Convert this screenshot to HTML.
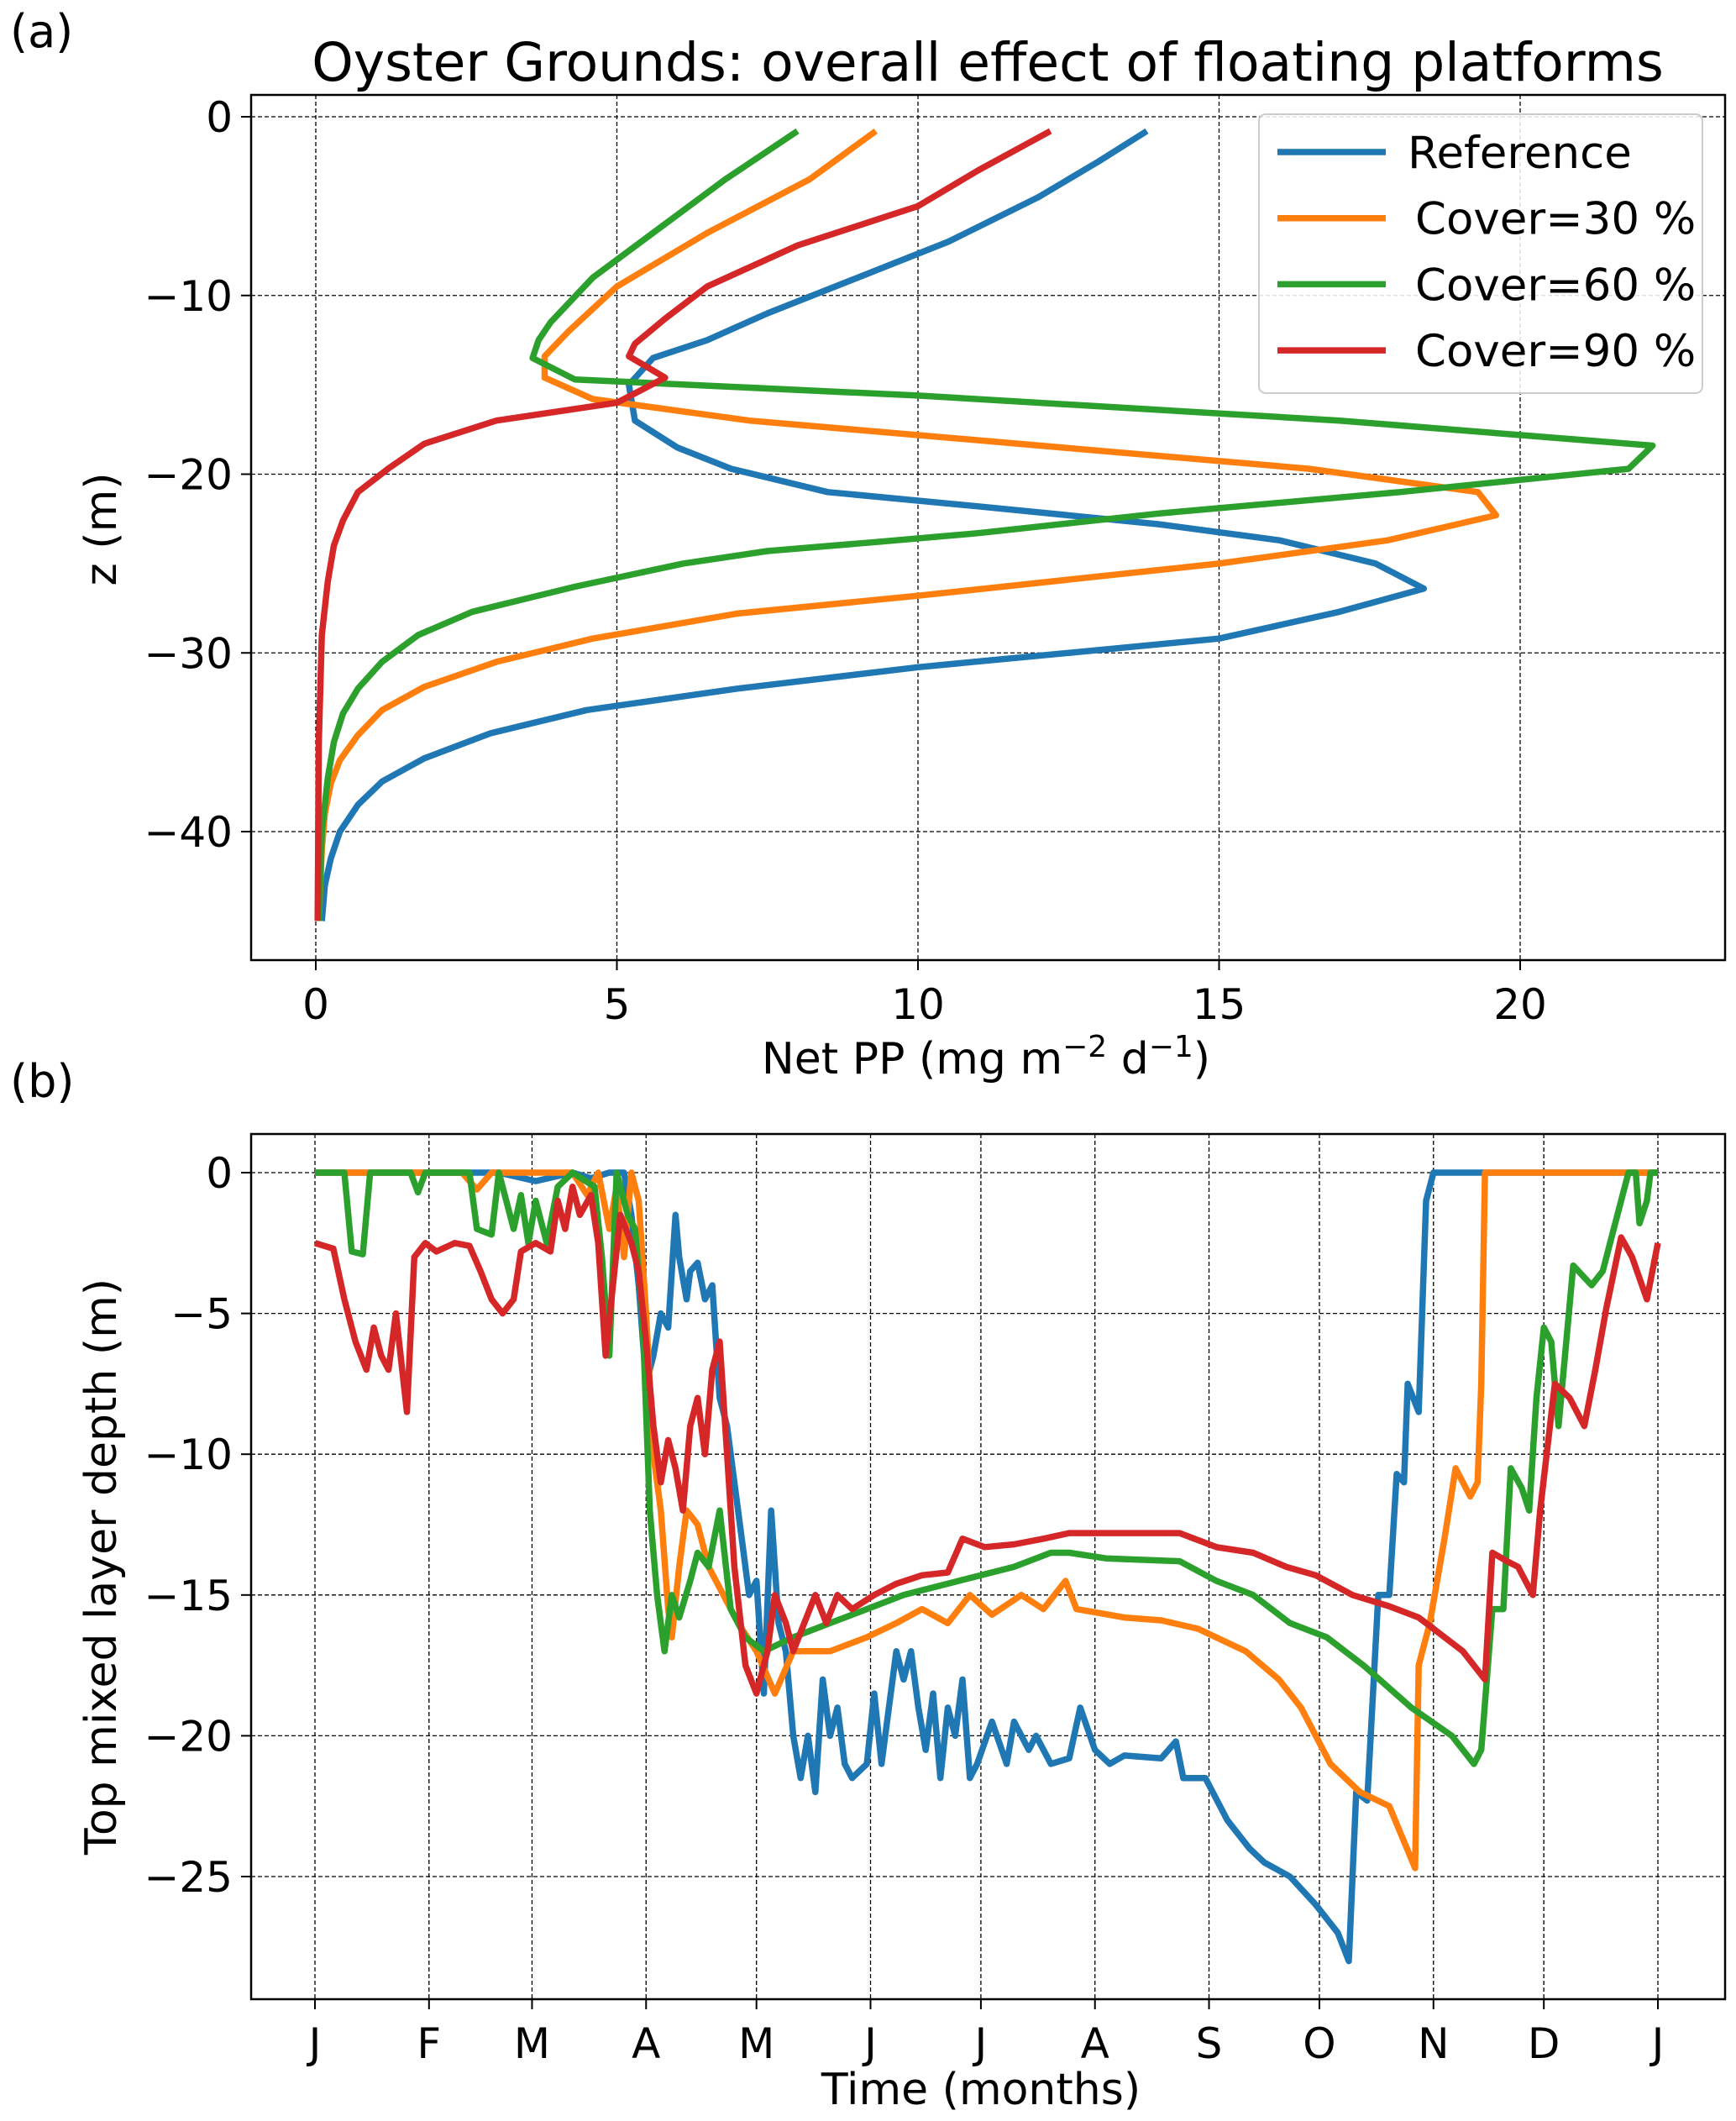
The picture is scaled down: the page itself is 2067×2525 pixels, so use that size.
<!DOCTYPE html>
<html><head><meta charset="utf-8"><style>
html,body{margin:0;padding:0;background:#fff}
svg{display:block;font-family:"DejaVu Sans","Liberation Sans",sans-serif}
</style></head><body>
<svg id="fig" width="2067" height="2525" viewBox="0 0 2067 2525" xmlns="http://www.w3.org/2000/svg">
<rect width="2067" height="2525" fill="#fff"/>
<text x="12" y="56" font-size="54">(a)</text>
<text x="12" y="1306" font-size="54">(b)</text>
<text x="1176" y="96" font-size="63" text-anchor="middle">Oyster Grounds: overall effect of floating platforms</text>
<g id="pa"></g>
<g id="pb"></g>
<text x="1174" y="1278" font-size="52" text-anchor="middle">Net PP (mg m<tspan dy="-20" font-size="36">−2</tspan><tspan dy="20"> d</tspan><tspan dy="-20" font-size="36">−1</tspan><tspan dy="20">)</tspan></text>
<text transform="translate(138,630) rotate(-90)" font-size="52" text-anchor="middle">z (m)</text>
<text transform="translate(138,1865) rotate(-90)" font-size="52" text-anchor="middle">Top mixed layer depth (m)</text>
<text x="1168" y="2505" font-size="52" text-anchor="middle">Time (months)</text>
</svg>
<script>
const NS="http://www.w3.org/2000/svg";
const colors=["#1f77b4","#ff7f0e","#2ca02c","#d62728"];
const seriesNames=["Reference","Cover=30 %","Cover=60 %","Cover=90 %"];
// Panel a profiles: [netPP, z]
const profRef=[[13.8,-0.8],[13,-2.5],[12,-4.5],[10.5,-7],[9,-9],[7.5,-11],[6.5,-12.5],[5.6,-13.5],[5.2,-15],[5.3,-17],[6,-18.5],[6.9,-19.7],[8.5,-21],[11,-21.8],[14,-22.8],[16,-23.7],[17.6,-25],[18.4,-26.4],[17,-27.7],[15,-29.2],[10,-30.8],[7,-32],[4.5,-33.2],[2.9,-34.5],[1.8,-35.9],[1.1,-37.2],[0.7,-38.5],[0.4,-40],[0.25,-41.5],[0.15,-43],[0.1,-45]];
const prof30=[[9.3,-0.8],[8.2,-3.5],[6.5,-6.5],[5,-9.5],[4.2,-12],[3.8,-13.4],[3.8,-14.6],[4.6,-15.8],[7.2,-17],[16.5,-19.7],[19.3,-21],[19.6,-22.3],[17.8,-23.7],[15,-25],[10,-26.8],[7,-27.8],[4.6,-29.2],[3,-30.5],[1.8,-31.9],[1.1,-33.2],[0.7,-34.6],[0.4,-36],[0.25,-37.3],[0.15,-39],[0.1,-41],[0.05,-45]];
const prof60=[[8,-0.8],[6.8,-3.5],[5.6,-6.5],[4.6,-9],[3.9,-11.5],[3.7,-12.5],[3.6,-13.5],[4.3,-14.7],[10,-15.6],[17,-17],[22.2,-18.4],[21.8,-19.7],[18,-21],[14,-22.2],[11,-23.3],[9.3,-23.8],[7.5,-24.3],[6.1,-25],[4.3,-26.3],[2.6,-27.7],[1.7,-29],[1.1,-30.5],[0.7,-32],[0.45,-33.4],[0.3,-35],[0.2,-37],[0.1,-40],[0.05,-45]];
const prof90=[[12.2,-0.8],[11,-3],[10,-5],[8,-7.2],[6.5,-9.5],[5.8,-11.3],[5.3,-12.7],[5.2,-13.4],[5.8,-14.6],[5,-16],[3,-17],[1.8,-18.3],[1.2,-19.7],[0.7,-21],[0.45,-22.6],[0.3,-24],[0.2,-26],[0.1,-29],[0.05,-35],[0.03,-45]];
const xTicksA=[0,5,10,15,20];
const yTicksA=[0,-10,-20,-30,-40];
// Panel b series: [day, depth]
const mldRef=[[0,0],[50,0],[60,-0.3],[70,0],[75,-0.2],[80,0],[84,0],[86,-1.5],[88,-4],[90,-7.5],[92,-6.5],[94,-5],[96,-5.5],[98,-1.5],[99,-3],[101,-4.5],[102,-3.5],[104,-3.2],[106,-4.5],[108,-4],[110,-8],[112,-9],[114,-11],[116,-13],[118,-15],[120,-14.5],[122,-18.5],[124,-12],[126,-16],[128,-17],[130,-20],[132,-21.5],[134,-20],[136,-22],[138,-18],[140,-20],[142,-19],[144,-21],[146,-21.5],[150,-21],[152,-18.5],[154,-21],[156,-19],[158,-17],[160,-18],[162,-17],[164,-19],[166,-20.5],[168,-18.5],[170,-21.5],[172,-19],[174,-20],[176,-18],[178,-21.5],[180,-21],[184,-19.5],[188,-21],[190,-19.5],[194,-20.5],[196,-20],[200,-21],[205,-20.8],[208,-19],[212,-20.5],[216,-21],[220,-20.7],[230,-20.8],[234,-20.2],[236,-21.5],[242,-21.5],[248,-23],[254,-24],[258,-24.5],[265,-25],[272,-26],[278,-27],[281,-28],[283,-22],[286,-22.3],[289,-15],[292,-15],[294,-10.7],[296,-11],[297,-7.5],[300,-8.5],[302,-1],[304,0],[365,0]];
const mld30=[[0,0],[40,0],[44,-0.6],[48,0],[70,0],[74,-0.8],[77,0],[80,-2],[82,-0.5],[84,-3],[86,0],[88,-1],[90,-5],[92,-10],[94,-12],[96,-15.5],[97,-16.5],[99,-14],[101,-12],[104,-12.5],[107,-14],[111,-15],[115,-16],[120,-17],[125,-18.5],[130,-17],[140,-17],[150,-16.5],[158,-16],[165,-15.5],[172,-16],[178,-15],[184,-15.7],[192,-15],[198,-15.5],[204,-14.5],[207,-15.5],[220,-15.8],[230,-15.9],[240,-16.2],[253,-17],[262,-18],[268,-19],[276,-21],[284,-22],[292,-22.5],[299,-24.7],[300,-17.5],[303,-16],[307,-13],[310,-10.5],[314,-11.5],[316,-11],[317,-7.5],[318,0],[365,0]];
const mld60=[[0,0],[8,0],[10,-2.8],[13,-2.9],[15,0],[26,0],[28,-0.7],[30,0],[42,0],[44,-2],[48,-2.2],[50,0],[54,-2],[56,-0.8],[58,-2.5],[60,-1],[63,-2.5],[66,-0.5],[70,0],[76,-0.5],[78,-3],[80,-6.5],[82,0],[85,-1.5],[87,-2],[89,-5],[91,-12],[93,-15],[95,-17],[97,-15],[99,-15.8],[102,-14.5],[104,-13.5],[107,-14],[110,-12],[113,-15.5],[117,-16.5],[122,-17],[130,-16.5],[140,-16],[150,-15.5],[160,-15],[175,-14.5],[190,-14],[200,-13.5],[205,-13.5],[215,-13.7],[235,-13.8],[245,-14.5],[255,-15],[265,-16],[275,-16.5],[285,-17.5],[298,-19],[309,-20],[315,-21],[317,-20.5],[320,-15.5],[323,-15.5],[325,-10.5],[328,-11.2],[330,-12],[332,-8],[334,-5.5],[336,-6],[338,-9],[342,-3.3],[347,-4],[350,-3.5],[355,-1],[357,0],[359,0],[360,-1.8],[362,-1],[363,0],[365,0]];
const mld90=[[0,-2.5],[5,-2.7],[8,-4.5],[11,-6],[14,-7],[16,-5.5],[18,-6.5],[20,-7],[22,-5],[25,-8.5],[27,-3],[30,-2.5],[33,-2.8],[38,-2.5],[42,-2.6],[45,-3.5],[48,-4.5],[51,-5],[54,-4.5],[56,-2.8],[60,-2.5],[64,-2.8],[66,-1],[68,-2],[70,-0.5],[72,-1.5],[75,-0.8],[77,-2.5],[79,-6.5],[81,-4],[83,-1.5],[86,-2.5],[88,-3.5],[90,-6],[92,-9],[94,-11],[96,-9.5],[98,-10.5],[100,-12],[102,-9],[104,-8],[106,-10],[108,-7],[110,-6],[112,-10],[114,-14],[117,-17.5],[120,-18.5],[123,-17],[125,-15],[128,-16],[130,-17],[133,-16],[136,-15],[139,-16],[142,-15],[146,-15.5],[152,-15],[158,-14.6],[165,-14.3],[172,-14.2],[176,-13],[182,-13.3],[190,-13.2],[198,-13],[205,-12.8],[235,-12.8],[245,-13.3],[255,-13.5],[264,-14],[272,-14.3],[282,-15],[292,-15.4],[300,-15.8],[305,-16.3],[312,-17],[318,-18],[320,-13.5],[324,-13.8],[327,-14],[331,-15],[333,-12],[337,-7.5],[341,-8],[345,-9],[348,-7],[351,-4.8],[355,-2.3],[358,-3],[362,-4.5],[365,-2.5]];
const yTicksB=[0,-5,-10,-15,-20,-25];
const monthLabels=["J","F","M","A","M","J","J","A","S","O","N","D","J"];
const monthDays=[0,31,59,90,120,151,181,212,243,273,304,334,365];

// axis functions
const A={L:299,R:2054,T:113,B:1143};
const xa=v=>376+v*(1810-376)/20;
const ya=v=>139+(-v)*(990-139)/40;
const B={L:299,R:2054,T:1350,B:2380};
const xb=d=>375+d*(1974-375)/365;
const yb=v=>1396+(-v)*(2234-1396)/25;

function mk(tag,attrs,parent,txt){const e=document.createElementNS(NS,tag);for(const k in attrs)e.setAttribute(k,attrs[k]);if(txt!==undefined)e.textContent=txt;parent.appendChild(e);return e;}

function frame(g,box,xt,xf,xlab,yt,yf,key){
  xt.forEach((t,i)=>{const x=xf(t);
    const l=mk('line',{x1:x,x2:x,y1:box.T,y2:box.B,stroke:'#000','stroke-width':1.3,'stroke-dasharray':'5,3'},g);
    
    
    mk('line',{x1:x,x2:x,y1:box.B,y2:box.B+12,stroke:'#000','stroke-width':2},g);
    const tx=mk('text',{x:x,y:box.B+70,'font-size':50,'text-anchor':'middle'},g,xlab[i]);
    
    
  });
  yt.forEach(t=>{const y=yf(t);
    const l=mk('line',{x1:box.L,x2:box.R,y1:y,y2:y,stroke:'#000','stroke-width':1.3,'stroke-dasharray':'5,3'},g);
    
    
    mk('line',{x1:box.L-12,x2:box.L,y1:y,y2:y,stroke:'#000','stroke-width':2},g);
    const tx=mk('text',{x:box.L-22,y:y+18,'font-size':50,'text-anchor':'end'},g,t===0?'0':'−'+Math.abs(t));
    
    
  });
}
function line(g,pts,fx,fy,c,name){
  const p=mk('polyline',{points:pts.map(q=>fx(q[0]).toFixed(1)+','+fy(q[1]).toFixed(1)).join(' '),fill:'none',stroke:c,'stroke-width':7.5,'stroke-linejoin':'round'},g);
  
  
}
const ga=document.getElementById('pa'), gb=document.getElementById('pb');
frame(ga,A,xTicksA,xa,xTicksA.map(String),yTicksA,ya,'a');
[profRef,prof30,prof60,prof90].forEach((s,i)=>line(ga,s,xa,ya,colors[i],'profile-'+i));
mk('rect',{x:A.L,y:A.T,width:A.R-A.L,height:A.B-A.T,fill:'none',stroke:'#000','stroke-width':2.5},ga);
// legend
const lg=mk('g',{},ga);


mk('rect',{x:1499,y:136,width:528,height:332,rx:8,fill:'#fff','fill-opacity':0.85,stroke:'#ccc','stroke-width':2},lg);
seriesNames.forEach((n,i)=>{const y=181+i*78.7;
  mk('line',{x1:1521,x2:1650,y1:y,y2:y,stroke:colors[i],'stroke-width':7.5},lg);
  const t=mk('text',{x:i===0?1676:1685,y:y+19,'font-size':53},lg,n);
  
  
});
frame(gb,B,monthDays,xb,monthLabels,yTicksB,yb,'b');
[mldRef,mld30,mld60,mld90].forEach((s,i)=>line(gb,s,xb,yb,colors[i],'mld-series-'+i));
mk('rect',{x:B.L,y:B.T,width:B.R-B.L,height:B.B-B.T,fill:'none',stroke:'#000','stroke-width':2.5},gb);
</script>
</body></html>
